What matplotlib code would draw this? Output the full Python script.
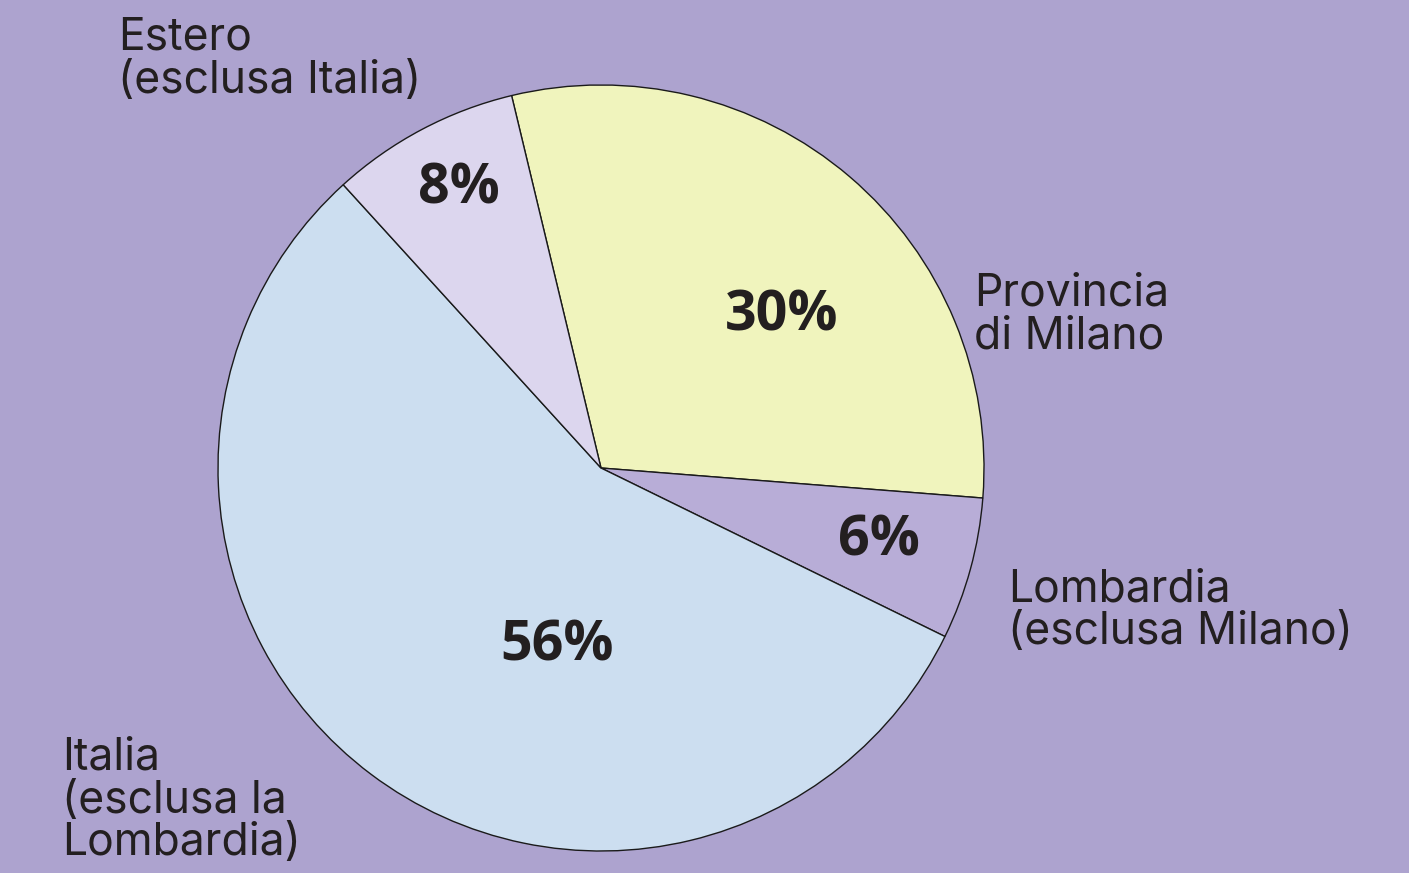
import matplotlib
matplotlib.use('Agg')
import matplotlib.pyplot as plt

plt.rcParams['font.family'] = ['Open Sans', 'DejaVu Sans']

# data
categories = ['Provincia\ndi Milano', 'Lombardia\n(esclusa Milano)',
              'Italia\n(esclusa la\nLombardia)', 'Estero\n(esclusa Italia)']
shares = [30, 6, 56, 8]
colors = ['#F0F4BD', '#B8ADD7', '#CCDEF0', '#DCD6EE']

BG = '#ADA3CF'
INK = '#231F20'

W, H = 1409, 873
fig = plt.figure(figsize=(W / 100, H / 100), dpi=100, facecolor=BG)
ax = fig.add_axes([0, 0, 1, 1])
ax.set_facecolor(BG)
ax.set_xlim(0, W)
ax.set_ylim(H, 0)
ax.set_aspect('equal')
ax.axis('off')

# y axis inverted -> counterclock=True draws clockwise on screen
wedges, _ = ax.pie(shares, colors=colors, startangle=-103.5, counterclock=True,
                   center=(601, 468), radius=383,
                   wedgeprops={'edgecolor': '#1a1a1a', 'linewidth': 1.0})
ax.set_xlim(0, W)
ax.set_ylim(H, 0)

# percentage labels (pixel positions of centres)
pct_pos = [(782, 316), (879, 541), (557, 646), (459, 189)]
for v, (x, y) in zip(shares, pct_pos):
    ax.text(x, y, f'{v}%', ha='center', va='center', fontsize=40,
            fontweight='bold', color=INK)

# category labels (top-left anchored)
lab_pos = [(974, 273), (1008, 568), (62, 737), (118, 17)]
for lab, (x, y) in zip(categories, lab_pos):
    ax.text(x, y, lab, ha='left', va='top', fontsize=32, color=INK,
            family=['Inter', 'DejaVu Sans'], linespacing=1.02)

fig.savefig('out.png', dpi=100, facecolor=BG)
